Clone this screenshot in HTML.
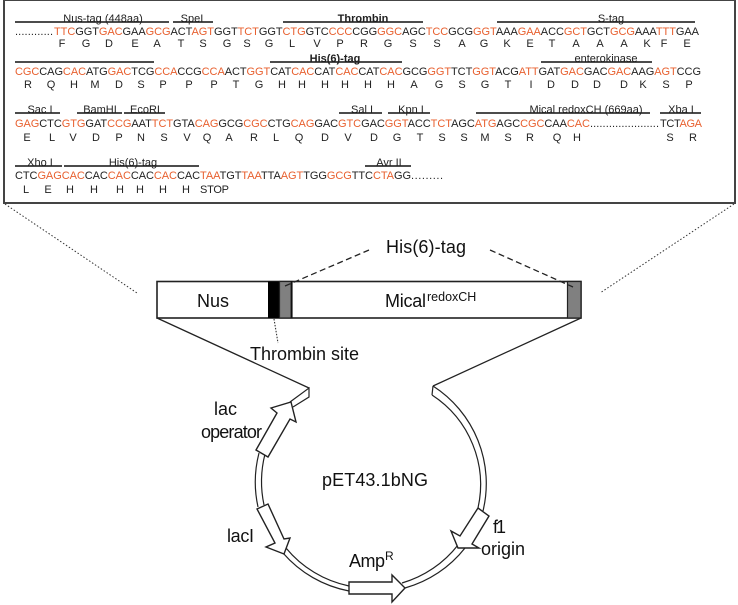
<!DOCTYPE html>
<html><head><meta charset="utf-8"><style>
html,body{margin:0;padding:0;background:#fff;width:738px;height:605px;overflow:hidden}
svg{display:block;font-family:"Liberation Sans",sans-serif}
.s{font-size:11px;fill:#222}
.s tspan{fill:#e8602f}
.a{font-size:11px;fill:#222;text-anchor:middle}
.l{font-size:11px;fill:#222;text-anchor:middle}
.b{font-weight:bold}
.h{stroke:#111;stroke-width:1.5;fill:none}
.t{font-size:18px;fill:#111}
.p{fill:#fff;stroke:#222;stroke-width:1.4;stroke-linejoin:miter}
.r{fill:none;stroke:#222;stroke-width:1.2}
</style></head><body>
<svg width="738" height="605" viewBox="0 0 738 605" xmlns="http://www.w3.org/2000/svg">
<rect x="4" y="0" width="731" height="203" fill="#fff" stroke="#444" stroke-width="2"/>

<path class="h" d="M15 22H169M173 22H213M283 22H423M497 22H695M15 62H154M270 62H402M541 62H652M15 113H60M77 113H122M124 113H165M339 113H382M388 113H430M476 113H650M660 113H701M15 166H62M64 166H199M365 166H411"/>

<text class="l" x="103" y="22">Nus-tag (448aa)</text>
<text class="l" x="192" y="22">SpeI</text>
<text class="l b" x="363" y="22">Thrombin</text>
<text class="l" x="611" y="22">S-tag</text>
<text class="l b" x="335" y="62">His(6)-tag</text>
<text class="l" x="606" y="62">enterokinase</text>
<text class="l" x="40" y="113">Sac I</text>
<text class="l" x="100" y="113">BamHI</text>
<text class="l" x="145" y="113">EcoRI</text>
<text class="l" x="362" y="113">Sal I</text>
<text class="l" x="411" y="113">Kpn I</text>
<text class="l" x="586" y="113">Mical redoxCH (669aa)</text>
<text class="l" x="681" y="113">Xba I</text>
<text class="l" x="40" y="166">Xho I</text>
<text class="l" x="133" y="166">His(6)-tag</text>
<text class="l" x="389" y="166">Avr II</text>

<text class="s" x="15" y="35" textLength="38" lengthAdjust="spacing">............</text>
<text class="s" x="54" y="35" textLength="645" lengthAdjust="spacing"><tspan>TTC</tspan>GGT<tspan>GAC</tspan>GAA<tspan>GCG</tspan>ACT<tspan>AGT</tspan>GGT<tspan>TCT</tspan>GGT<tspan>CTG</tspan>GTC<tspan>CCC</tspan>CGG<tspan>GGC</tspan>AGC<tspan>TCC</tspan>GCG<tspan>GGT</tspan>AAA<tspan>GAA</tspan>ACC<tspan>GCT</tspan>GCT<tspan>GCG</tspan>AAA<tspan>TTT</tspan>GAA</text>
<text class="a" x="62 86 109 135 157 181 203 227 247 269 292 317 340 364 388 413 437 462 484 507 530 552 576 600 624 647 664 687" y="47">FGDEATSGSGLVPRGSSAGKETAAAKFE</text>

<text class="s" x="15" y="75" textLength="686" lengthAdjust="spacing"><tspan>CGC</tspan>CAG<tspan>CAC</tspan>ATG<tspan>GAC</tspan>TCG<tspan>CCA</tspan>CCG<tspan>CCA</tspan>ACT<tspan>GGT</tspan>CAT<tspan>CAC</tspan>CAT<tspan>CAC</tspan>CAT<tspan>CAC</tspan>GCG<tspan>GGT</tspan>TCT<tspan>GGT</tspan>ACG<tspan>ATT</tspan>GAT<tspan>GAC</tspan>GAC<tspan>GAC</tspan>AAG<tspan>AGT</tspan>CCG</text>
<text class="a" x="28 51 74 95 119 141 163 189 214 236 259 282 302 325 345 368 391 414 439 462 485 508 531 551 575 597 624 643 666 689" y="88">RQHMDSPPPTGHHHHHHAGSGTIDDDDKSP</text>

<text class="s" x="15" y="127" textLength="575" lengthAdjust="spacing"><tspan>GAG</tspan>CTC<tspan>GTG</tspan>GAT<tspan>CCG</tspan>AAT<tspan>TCT</tspan>GTA<tspan>CAG</tspan>GCG<tspan>CGC</tspan>CTG<tspan>CAG</tspan>GAC<tspan>GTC</tspan>GAC<tspan>GGT</tspan>ACC<tspan>TCT</tspan>AGC<tspan>ATG</tspan>AGC<tspan>CGC</tspan>CAA<tspan>CAC</tspan></text>
<text class="s" x="590" y="127" textLength="69" lengthAdjust="spacing">......................</text>
<text class="s" x="660" y="127" textLength="42" lengthAdjust="spacing">TCT<tspan>AGA</tspan></text>
<text class="a" x="27 52 73 96 119 141 164 187 207 229 254 276 299 325 348 374 397 420 442 464 485 508 530 557 577 670 693" y="141">ELVDPNSVQARLQDVDGTSSMSRQHSR</text>

<text class="s" x="15" y="179" textLength="396" lengthAdjust="spacing">CTC<tspan>GAG</tspan><tspan>CAC</tspan>CAC<tspan>CAC</tspan>CAC<tspan>CAC</tspan>CAC<tspan>TAA</tspan>TGT<tspan>TAA</tspan>TTA<tspan>AGT</tspan>TGG<tspan>GCG</tspan>TTC<tspan>CTA</tspan>GG</text>
<text class="s" x="411" y="179" textLength="32" lengthAdjust="spacing">.........</text>
<text class="a" x="26 48 70 94 120 140 163 186" y="193">LEHHHHHH</text>
<text class="a" style="text-anchor:start" x="200" y="193" textLength="29">STOP</text>

<path d="M5 204L137 293M734 204L600 293" stroke="#333" stroke-width="1" stroke-dasharray="1.5 2" fill="none"/>

<rect x="157" y="281.5" width="424" height="36.5" fill="#fff" stroke="#222" stroke-width="1.6"/>
<rect x="268" y="281.5" width="11.5" height="36.5" fill="#000"/>
<rect x="279.500" y="281.5" width="12.500" height="36.5" fill="#808080" stroke="#222" stroke-width="1.200"/>
<rect x="567.500" y="281.5" width="13.500" height="36.5" fill="#808080" stroke="#222" stroke-width="1.200"/>
<line x1="291.500" y1="281" x2="291.500" y2="318" stroke="#111" stroke-width="1.800"/>

<text class="t" x="197" y="307">Nus</text>
<text class="t" x="385" y="307" textLength="41">Mical</text>
<text x="427" y="301" font-size="12.500" fill="#111">redoxCH</text>
<text class="t" x="386" y="253" textLength="80">His(6)-tag</text>
<text class="t" x="250" y="360" textLength="109">Thrombin site</text>

<path d="M369 250L285 286M490 250L573 287" stroke="#222" stroke-width="1.300" stroke-dasharray="6 3.500" fill="none"/>
<path d="M274 319L278 343" stroke="#333" stroke-width="1.100" stroke-dasharray="1.500 1.500" fill="none"/>
<path d="M157 318L309 388M581 318L433 386" stroke="#222" stroke-width="1.300" fill="none"/>

<!-- plasmid ring -->
<path class="r" d="M433 386L432 395"/>
<path class="r" d="M433 386A116 116 0 0 1 483 511"/>
<path class="r" d="M432 395A107 107 0 0 1 478 508"/>
<path class="r" d="M465 548A116 116 0 0 1 405 588"/>
<path class="r" d="M458 545A110 110 0 0 1 402 583"/>
<path class="r" d="M349 591A116 116 0 0 1 283 553"/>
<path class="r" d="M349 586A110 110 0 0 1 286 548"/>
<path class="r" d="M258 507A116 116 0 0 1 259 453"/>
<path class="r" d="M264 505A112 112 0 0 1 265 454"/>
<path class="r" d="M290 402L309 388V397L293 407"/>

<polygon class="p" points="256,450 268,457 290,419 296,422 291,402 271,408 277,413"/>
<polygon class="p" points="257,509 268,504 284,539 290,538 284,554 266,547 275,543"/>
<polygon class="p" points="349,582 392,582 392,575 405,588 392,602 392,594 349,594"/>
<polygon class="p" points="478,508 489,516 472,544 479,548 458,548 451,531 460,536"/>

<text class="t" x="214" y="415" textLength="23">lac</text>
<text class="t" x="201" y="438" textLength="61">operator</text>
<text class="t" x="322" y="486" textLength="106">pET43.1bNG</text>
<text class="t" x="227" y="542" textLength="27">lacI</text>
<text class="t" x="349" y="567" textLength="36">Amp</text>
<text x="385" y="560" font-size="12" fill="#111">R</text>
<text class="t" x="493" y="533" textLength="13">f1</text>
<text class="t" x="481" y="555" textLength="44">origin</text>
</svg>
</body></html>
